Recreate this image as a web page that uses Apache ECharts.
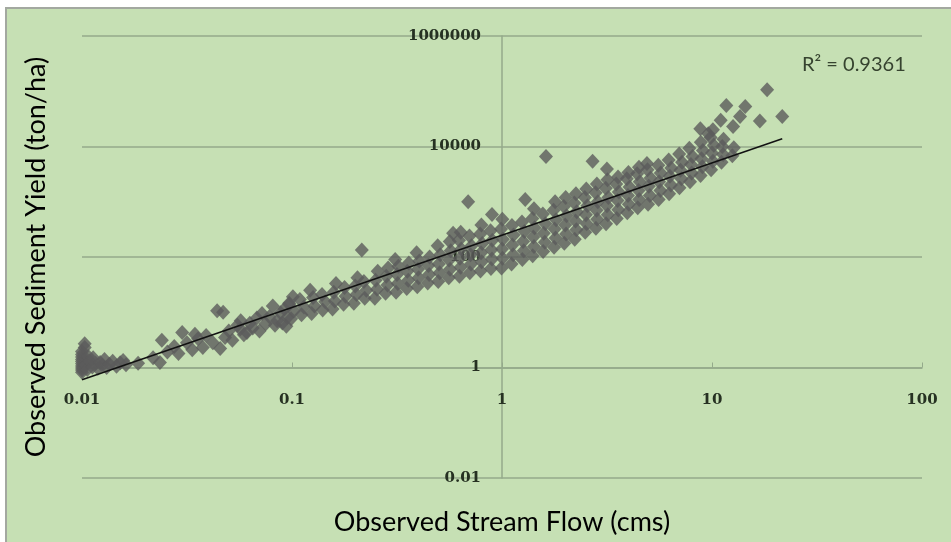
<!DOCTYPE html>
<html>
<head>
<meta charset="utf-8">
<script src="https://cdn.jsdelivr.net/npm/echarts@6.0.0/dist/echarts.min.js"></script>
<style>
  html, body { margin: 0; padding: 0; background: #ffffff; }
  #chart { width: 951px; height: 542px; }
</style>
</head>
<body>
<div id="chart"></div>
<script>
// Stream flow (cms) vs sediment yield (ton/ha), log-log scatter with power trendline.

const flowTickLabels = ['0.01', '0.1', '1', '10', '100'];
const yieldTickLabels = ['0.01', '1', '100', '10000', '1000000'];

// [flow, yield] observations, low flows (below 0.1 cms)
const lowFlowPoints = [
  [0.01,0.82],[0.01,0.9],[0.01,0.98],[0.01,1.07],[0.01,1.17],[0.01,1.28],[0.01,1.4],[0.01,1.55],
  [0.01,1.72],[0.01,1.95],[0.0103,2.3],[0.0103,2.7],[0.0104,1.1],[0.0106,0.92],[0.0107,1.6],
  [0.0109,1.3],[0.0112,1.02],[0.0113,1.5],[0.0116,1.2],[0.0119,0.97],[0.0122,1.23],[0.0125,1.1],
  [0.0128,1.4],[0.0131,1.0],[0.0135,1.15],[0.014,1.3],[0.0146,1.05],[0.0152,1.22],[0.0157,1.34],
  [0.0162,1.12],[0.0185,1.2],[0.0218,1.5],[0.0235,1.23],[0.024,3.1],[0.0255,1.9],[0.0275,2.4],
  [0.0288,1.8],[0.030,4.3],[0.0316,2.8],[0.0335,2.1],[0.0345,4.0],[0.0357,3.3],[0.0376,2.3],
  [0.039,3.8],[0.042,2.8],[0.044,10.6],[0.047,10.0],[0.0455,2.2],[0.048,3.5],[0.05,4.6],
  [0.052,3.1],[0.055,5.8],[0.057,7.0],[0.0567,5.0],[0.059,3.9],[0.061,4.3],[0.063,6.3],
  [0.065,5.2],[0.068,7.9],[0.07,4.6],[0.072,9.5],[0.075,6.2],[0.078,8.3],[0.081,13],[0.083,5.8],
  [0.085,7.0],[0.088,9.8],[0.09,6.4],[0.092,11.5],[0.095,8.0],[0.097,14.5],[0.094,5.6]
];

// flows from 0.1 to 1 cms
const midFlowPoints = [
  [0.099,7.6],[0.102,10.5],[0.097,14],[0.101,19],
  [0.111,9.0],[0.114,12.5],[0.109,17],
  [0.124,9.5],[0.128,13],[0.126,18.5],[0.122,25],
  [0.14,11],[0.144,15.5],[0.139,21],
  [0.156,11.5],[0.16,16],[0.158,23],[0.162,33],
  [0.176,14],[0.18,19.5],[0.178,28],
  [0.197,14.5],[0.203,21],[0.2,30],[0.205,42],[0.215,134],
  [0.222,18],[0.226,25],[0.22,36],
  [0.248,18],[0.254,26],[0.25,38],[0.256,55],
  [0.279,22],[0.285,31],[0.281,45],[0.287,63],
  [0.313,23],[0.319,33],[0.316,48],[0.321,68],[0.31,90],
  [0.352,27],[0.358,38],[0.354,55],[0.36,78],
  [0.395,29],[0.401,42],[0.398,60],[0.404,85],[0.392,120],
  [0.443,34],[0.45,48],[0.446,70],[0.452,100],
  [0.497,36],[0.505,52],[0.5,75],[0.508,110],[0.494,160],
  [0.558,42],[0.566,60],[0.56,88],[0.57,130],[0.564,190],[0.585,270],
  [0.627,45],[0.635,65],[0.63,95],[0.64,140],[0.624,200],[0.636,280],
  [0.703,52],[0.712,75],[0.708,110],[0.716,160],[0.7,240],[0.69,1000],
  [0.79,56],[0.8,82],[0.795,120],[0.805,175],[0.787,260],[0.798,380],
  [0.886,62],[0.896,92],[0.89,135],[0.9,200],[0.882,300],[0.896,590],
  [0.995,63],[1.006,95],[1.0,140],[1.01,210],[0.99,320],[1.004,480]
];

// flows above 1 cms
const highFlowPoints = [
  [1.11,75],[1.13,110],[1.12,165],[1.135,250],[1.115,370],
  [1.25,90],[1.27,130],[1.26,190],[1.28,290],[1.245,430],[1.29,1100],
  [1.4,105],[1.42,155],[1.41,230],[1.43,340],[1.395,500],[1.42,750],
  [1.57,126],[1.6,185],[1.58,270],[1.61,400],[1.565,600],[1.62,6600],
  [1.77,150],[1.8,220],[1.78,320],[1.81,470],[1.76,700],[1.79,1000],
  [1.98,178],[2.02,260],[2.0,380],[2.03,560],[1.97,820],[2.01,1200],
  [2.22,210],[2.26,310],[2.24,450],[2.27,660],[2.21,950],[2.25,1400],
  [2.49,280],[2.53,400],[2.51,580],[2.55,850],[2.48,1200],[2.52,1700],
  [2.8,330],[2.84,480],[2.82,700],[2.86,1000],[2.79,1450],[2.83,2100],[2.7,5400],
  [3.13,400],[3.19,580],[3.16,850],[3.21,1200],[3.12,1750],[3.18,2500],[3.16,3900],
  [3.52,500],[3.58,720],[3.55,1050],[3.6,1500],[3.5,2100],[3.57,2800],
  [3.95,630],[4.02,900],[3.98,1300],[4.05,1850],[3.93,2600],[4.0,3400],
  [4.43,780],[4.5,1100],[4.47,1600],[4.53,2300],[4.4,3200],[4.49,4200],
  [4.96,900],[5.06,1300],[5.0,1900],[5.1,2700],[4.93,3800],[4.9,4900],
  [5.57,1100],[5.68,1600],[5.6,2300],[5.7,3300],[5.55,4600],
  [6.25,1400],[6.37,2000],[6.3,2900],[6.4,4100],[6.22,5700],
  [7.0,1800],[7.15,2600],[7.08,3700],[7.2,5200],[6.98,7300],
  [7.86,2300],[8.0,3300],[7.94,4700],[8.08,6600],[7.8,9300],[8.8,21000],
  [8.82,3000],[9.0,4300],[8.91,6000],[9.05,8500],[8.85,12000],[9.6,17000],
  [9.9,3800],[10.1,5400],[10.0,7600],[10.2,10500],[9.85,14500],[10.1,20000],
  [11.1,5200],[11.3,7200],[11.2,10000],[11.35,13500],[11.0,30000],[11.7,55000],
  [12.5,6800],[12.7,9500],[12.6,23000],[13.6,35000],[14.4,53000],
  [16.9,29000],[18.3,107000],[21.6,35000]
];

// power trendline end points and its fit
const trendFlow = [0.01, 21.6];
const trendYield = [0.6, 13800];
const rSquared = '0.9361';

const gridColor = '#94aa8b';
const labelColor = '#263122';

const chart = echarts.init(document.getElementById('chart'), null, { renderer: 'canvas' });

const flowLabel = v => flowTickLabels[Math.round(Math.log10(v)) + 2] || '';
const yieldLabel = v => yieldTickLabels[(Math.round(Math.log10(v)) + 2) / 2] || '';

chart.setOption({
  animation: false,
  backgroundColor: 'transparent',
  graphic: [
    {
      type: 'rect', z: -100, silent: true,
      shape: { x: 6, y: 8, width: 950, height: 540 },
      style: { fill: '#c6e0b4', stroke: '#a3a8a0', lineWidth: 2 }
    },
    {
      type: 'text', left: 802, top: 55, z: 10,
      style: { text: 'R² = ' + rSquared, font: '20px Lato', fill: '#36432f' }
    }
  ],
  grid: { left: 82, right: 29, top: 36, bottom: 64, containLabel: false },
  xAxis: {
    type: 'log', logBase: 10, min: 0.01, max: 100, interval: 1,
    position: 'bottom', offset: -110.5,
    axisLine: { show: true, onZero: false, lineStyle: { color: gridColor, width: 1.5 } },
    axisTick: { show: true, inside: true, length: 5, lineStyle: { color: gridColor } },
    axisLabel: { margin: 25, formatter: flowLabel, fontFamily: 'DejaVu Serif', fontWeight: 'bold',
      fontSize: 15, color: labelColor, showMinLabel: true, showMaxLabel: true },
    splitLine: { show: false },
    name: 'Observed Stream Flow (cms)', nameLocation: 'middle', nameGap: 141,
    nameTextStyle: { fontFamily: 'Lato', fontSize: 27, color: '#000000' }
  },
  yAxis: {
    type: 'log', logBase: 10, min: 0.01, max: 1000000, interval: 2,
    position: 'left', offset: -420,
    axisLine: { show: true, onZero: false, lineStyle: { color: gridColor, width: 1.5 } },
    axisTick: { show: false },
    axisLabel: { margin: 21, formatter: yieldLabel, fontFamily: 'DejaVu Serif', fontWeight: 'bold',
      fontSize: 15, color: labelColor, showMinLabel: true, showMaxLabel: true },
    splitLine: { show: true, lineStyle: { color: gridColor, width: 1.5 } },
    name: 'Observed Sediment Yield (ton/ha)', nameLocation: 'middle', nameGap: 452, nameRotate: 90,
    nameTextStyle: { fontFamily: 'Lato', fontSize: 27, color: '#000000' }
  },
  series: [
    {
      type: 'scatter', name: 'Observed', clip: false,
      symbol: 'diamond', symbolSize: [14, 15],
      itemStyle: { color: '#5b5b5b' },
      data: lowFlowPoints.concat(midFlowPoints, highFlowPoints),
      z: 2
    },
    {
      type: 'line', name: 'Power trend', symbol: 'none',
      data: trendFlow.map((f, i) => [f, trendYield[i]]),
      lineStyle: { color: '#111111', width: 1.5 },
      z: 3
    }
  ]
});
</script>
</body>
</html>
